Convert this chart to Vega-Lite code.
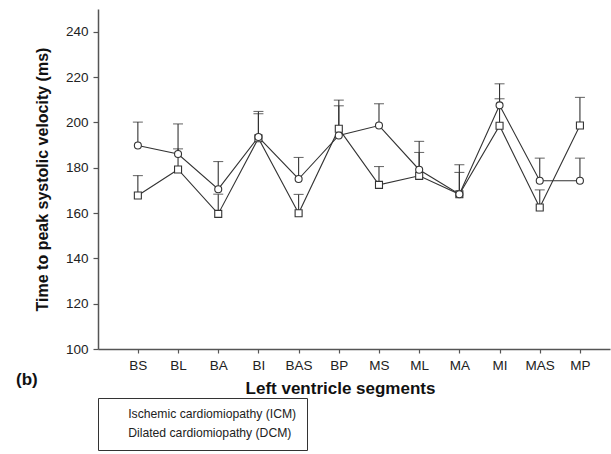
{
  "$schema": "https://vega.github.io/schema/vega-lite/v6.json",
  "autosize": {"type": "none"},
  "padding": {"left": 98, "top": 9, "right": 1, "bottom": 105},
  "width": 512,
  "height": 340,
  "config": {
    "view": {"stroke": null},
    "font": "Liberation Sans",
    "axis": {"grid": false, "domainColor": "#555", "domainWidth": 1.5, "tickColor": "#555", "tickWidth": 1.2, "labelColor": "#222", "titleColor": "#111"}
  },
  "title": {"text": "(b)", "orient": "top", "anchor": "start", "frame": "group", "fontSize": 17, "fontWeight": "bold", "color": "#111", "baseline": "middle", "offset": 0, "dx": -82, "dy": 388},
  "data": {"values": [
    {"segment": "BS", "group": "Ischemic cardiomiopathy (ICM)", "value": 167.7, "upper": 176.5},
    {"segment": "BL", "group": "Ischemic cardiomiopathy (ICM)", "value": 179.2, "upper": 188.3},
    {"segment": "BA", "group": "Ischemic cardiomiopathy (ICM)", "value": 159.6, "upper": 168.3},
    {"segment": "BI", "group": "Ischemic cardiomiopathy (ICM)", "value": 193.0, "upper": 203.8},
    {"segment": "BAS", "group": "Ischemic cardiomiopathy (ICM)", "value": 159.9, "upper": 168.2},
    {"segment": "BP", "group": "Ischemic cardiomiopathy (ICM)", "value": 197.2, "upper": 209.8},
    {"segment": "MS", "group": "Ischemic cardiomiopathy (ICM)", "value": 172.4, "upper": 180.5},
    {"segment": "ML", "group": "Ischemic cardiomiopathy (ICM)", "value": 176.4, "upper": 186.7},
    {"segment": "MA", "group": "Ischemic cardiomiopathy (ICM)", "value": 168.3, "upper": 177.9},
    {"segment": "MI", "group": "Ischemic cardiomiopathy (ICM)", "value": 198.5, "upper": 210.4},
    {"segment": "MAS", "group": "Ischemic cardiomiopathy (ICM)", "value": 162.4, "upper": 170.2},
    {"segment": "MP", "group": "Ischemic cardiomiopathy (ICM)", "value": 198.6, "upper": 211.0},
    {"segment": "BS", "group": "Dilated cardiomiopathy (DCM)", "value": 189.8, "upper": 200.1},
    {"segment": "BL", "group": "Dilated cardiomiopathy (DCM)", "value": 186.0, "upper": 199.3},
    {"segment": "BA", "group": "Dilated cardiomiopathy (DCM)", "value": 170.5, "upper": 182.7},
    {"segment": "BI", "group": "Dilated cardiomiopathy (DCM)", "value": 193.5, "upper": 204.8},
    {"segment": "BAS", "group": "Dilated cardiomiopathy (DCM)", "value": 175.0, "upper": 184.5},
    {"segment": "BP", "group": "Dilated cardiomiopathy (DCM)", "value": 194.2, "upper": 207.3},
    {"segment": "MS", "group": "Dilated cardiomiopathy (DCM)", "value": 198.6, "upper": 208.2},
    {"segment": "ML", "group": "Dilated cardiomiopathy (DCM)", "value": 179.1, "upper": 191.6},
    {"segment": "MA", "group": "Dilated cardiomiopathy (DCM)", "value": 168.3, "upper": 181.3},
    {"segment": "MI", "group": "Dilated cardiomiopathy (DCM)", "value": 207.5, "upper": 217.0},
    {"segment": "MAS", "group": "Dilated cardiomiopathy (DCM)", "value": 174.2, "upper": 184.2},
    {"segment": "MP", "group": "Dilated cardiomiopathy (DCM)", "value": 174.2, "upper": 184.2}
  ]},
  "encoding": {
    "x": {
      "field": "segment", "type": "ordinal",
      "sort": ["BS", "BL", "BA", "BI", "BAS", "BP", "MS", "ML", "MA", "MI", "MAS", "MP"],
      "scale": {"type": "point", "padding": 0.87, "align": 0.57},
      "axis": {"title": "Left ventricle segments", "labelAngle": 0, "labelFontSize": 13.5, "labelPadding": 5, "tickSize": 4, "titleFontSize": 17, "titleFontWeight": "bold", "titleX": 242, "titleY": 44, "titleBaseline": "alphabetic", "titleAlign": "center"}
    }
  },
  "layer": [
    {
      "mark": {"type": "line", "color": "#333", "strokeWidth": 1.1},
      "encoding": {
        "y": {"field": "value", "type": "quantitative", "scale": {"domain": [100, 250], "nice": false, "zero": false},
          "axis": {"title": "Time to peak systolic velocity (ms)", "values": [100, 120, 140, 160, 180, 200, 220, 240], "labelFontSize": 13.5, "labelPadding": 5, "tickSize": 5, "titleFontSize": 16, "titleFontWeight": "bold", "titlePadding": 15}},
        "detail": {"field": "group"}
      }
    },
    {
      "mark": {"type": "rule", "color": "#333", "strokeWidth": 1.1},
      "encoding": {"y": {"field": "value", "type": "quantitative"}, "y2": {"field": "upper"}}
    },
    {
      "mark": {"type": "tick", "color": "#333", "thickness": 1.1, "size": 10, "orient": "horizontal"},
      "encoding": {"y": {"field": "upper", "type": "quantitative"}}
    },
    {
      "mark": {"type": "point", "filled": true, "fill": "white", "stroke": "#333", "strokeWidth": 1.1, "size": 49, "opacity": 1},
      "encoding": {
        "y": {"field": "value", "type": "quantitative"},
        "shape": {
          "field": "group", "type": "nominal",
          "scale": {"domain": ["Ischemic cardiomiopathy (ICM)", "Dilated cardiomiopathy (DCM)"], "range": ["square", "circle"]},
          "legend": {
            "title": null, "orient": "none", "legendX": 0, "legendY": 389,
            "strokeColor": "#333", "padding": 10,
            "labelFontSize": 12.2, "labelColor": "#222", "labelOffset": 8, "labelLimit": 400, "rowPadding": 6,
            "symbolSize": 49, "symbolFillColor": "white", "symbolStrokeColor": "#333", "symbolStrokeWidth": 1.1, "symbolOpacity": 1,
            "encode": {
              "legend": {"strokeWidth": {"value": 1.5}},
              "symbols": {
                "stroke": {"value": "#333"},
                "fill": {"value": "white"},
                "strokeWidth": {"value": 1.1},
                "opacity": {"value": 1}
              }
            }
          }
        }
      }
    }
  ]
}
